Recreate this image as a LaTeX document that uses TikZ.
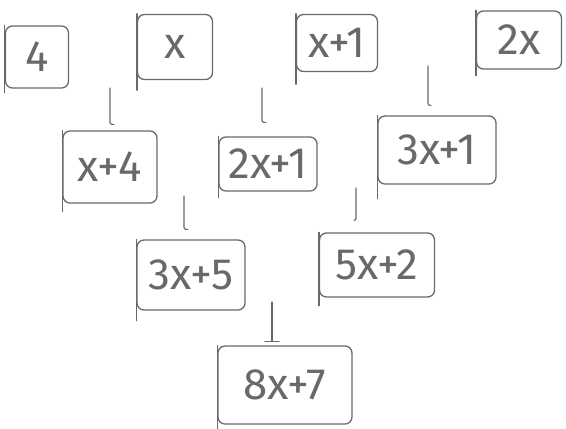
\documentclass[tikz,border=0pt]{standalone}
\usepackage{fontspec}
\setmainfont{Fira Sans}
\definecolor{pencil}{RGB}{105,105,105}
\begin{document}
\begin{tikzpicture}[x=1bp,y=-1bp,
  cell/.style={draw=pencil, line width=1.3pt, rounded corners=7pt, inner sep=0pt,
    text=pencil, font=\fontsize{44}{46}\selectfont},
  link/.style={draw=pencil, line width=1.2pt, line cap=round, rounded corners=2pt}]
\useasboundingbox (0,0) rectangle (566,428);
\fill[white] (0,0) rectangle (566,428);
% row 1
\node[cell, minimum width=63bp, minimum height=62bp] (a4) at (37,57) {4};
\node[cell, minimum width=75bp, minimum height=65bp] (ax) at (175,47) {x};
\node[cell, minimum width=81bp, minimum height=57bp] (ax1) at (337,43) {x+1};
\node[cell, minimum width=85bp, minimum height=58bp] (a2x) at (519,40) {2x};
% row 2
\node[cell, minimum width=94bp, minimum height=72bp] (bx4) at (110,167) {x+4};
\node[cell, minimum width=98bp, minimum height=54bp] (b2x1) at (268,164) {2x+1};
\node[cell, minimum width=118bp, minimum height=68bp] (b3x1) at (437,150) {3x+1};
% row 3
\node[cell, minimum width=108bp, minimum height=70bp] (c3x5) at (191,275) {3x+5};
\node[cell, minimum width=115bp, minimum height=64bp] (c5x2) at (377,265) {5x+2};
% row 4
\node[cell, minimum width=134bp, minimum height=78bp] (d8x7) at (285,385) {8x+7};
% longer left strokes of the hand-drawn boxes
\foreach \n/\d in {a4/4, ax/10, ax1/12, a2x/6, bx4/8, b2x1/6, b3x1/14, c3x5/10, c5x2/8, d8x7/8}
  \draw[pencil, line width=1.3pt, line cap=round] (\n.north west) -- ([yshift=-\d bp]\n.south west);
% connectors
\coordinate (k1) at (110,88);
\coordinate (k2) at (262,88);
\coordinate (k3) at (428,66);
\coordinate (k4) at (184,196);
\coordinate (k5) at (356,188);
\coordinate (k6) at (272,302);
\draw[link] (k1) -- ([yshift=6bp]k1 |- bx4.north) -- ++(4,0);
\draw[link] (k2) -- ([yshift=14bp]k2 |- b2x1.north) -- ++(4,0);
\draw[link] (k3) -- ([yshift=10bp]k3 |- b3x1.north) -- ++(3,0);
\draw[link] (k4) -- ([yshift=10bp]k4 |- c3x5.north) -- ++(4,0);
\draw[link] (k5) -- ([yshift=12bp]k5 |- c5x2.north) -- ++(-2,0);
\draw[link] (k6) -- ([yshift=4bp]k6 |- d8x7.north);
\draw[link] ([xshift=-7bp,yshift=4bp]k6 |- d8x7.north) -- ++(14,0);
\end{tikzpicture}
\end{document}
